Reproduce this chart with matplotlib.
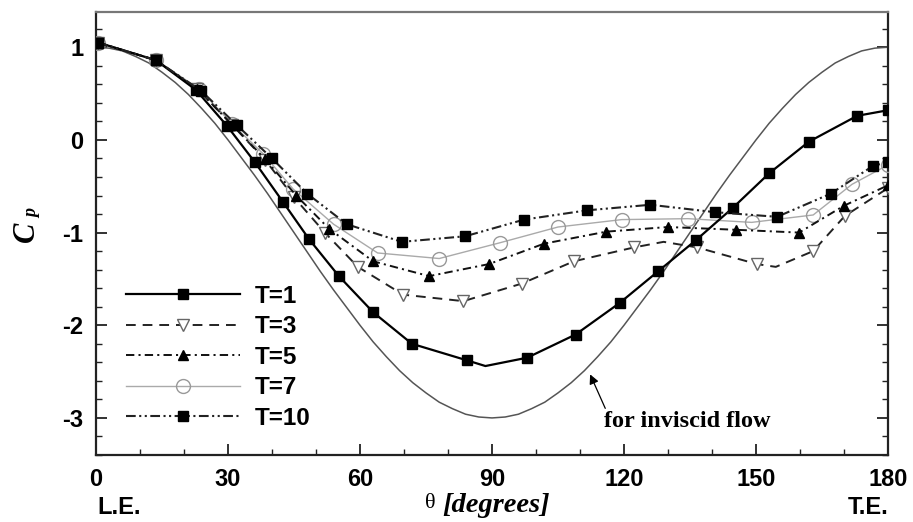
import matplotlib
matplotlib.use("Agg")
import matplotlib.pyplot as plt
from matplotlib.ticker import MultipleLocator, FixedLocator

plt.rcParams['axes.unicode_minus'] = False
plt.rcParams['lines.scale_dashes'] = False
plt.rcParams['font.family'] = ['Liberation Sans', 'DejaVu Sans']

# ---------------- data ----------------
inv_theta = list(range(0, 181, 3))
inv_cp = [1.00, 0.99, 0.96, 0.90, 0.83, 0.73, 0.62, 0.49, 0.34, 0.18, 0.00,
          -0.19, -0.38, -0.58, -0.79, -1.00, -1.21, -1.42, -1.62, -1.81, -2.00,
          -2.18, -2.34, -2.49, -2.62, -2.73, -2.83, -2.90, -2.96, -2.99, -3.00,
          -2.99, -2.96, -2.90, -2.83, -2.73, -2.62, -2.49, -2.34, -2.18, -2.00,
          -1.81, -1.62, -1.42, -1.21, -1.00, -0.79, -0.58, -0.38, -0.19, 0.00,
          0.18, 0.34, 0.49, 0.62, 0.73, 0.83, 0.90, 0.96, 0.99, 1.00]

t1_theta = [0.5, 13.6, 22.7, 29.8, 36.1, 42.5, 48.4, 55.2, 63.0, 71.8, 84.4, 88.5, 98.0, 109.0,
            119.0, 127.7, 136.4, 144.8, 153.0, 162.0, 173.0, 180.0]
t1_cp = [1.05, 0.86, 0.54, 0.15, -0.24, -0.67, -1.07, -1.47, -1.86, -2.20, -2.38, -2.44, -2.35,
         -2.10, -1.76, -1.42, -1.08, -0.73, -0.36, -0.02, 0.26, 0.32]
t1_line_only = [11]

t3_theta = [0.5, 13.6, 23.0, 31.0, 38.5, 45.0, 52.0, 59.5, 69.8, 83.5, 96.8, 108.6, 122.3,
            129.0, 136.6, 150.2, 154.5, 163.0, 170.2, 180.0]
t3_cp = [1.05, 0.86, 0.55, 0.16, -0.22, -0.62, -1.00, -1.37, -1.67, -1.74, -1.55, -1.31, -1.16,
         -1.10, -1.16, -1.34, -1.37, -1.20, -0.82, -0.52]
t3_line_only = [13, 16]

t5_theta = [0.5, 13.6, 23.0, 31.0, 38.5, 45.5, 53.0, 63.0, 75.7, 89.3, 101.8, 116.0, 130.0,
            145.5, 159.8, 170.0, 180.0]
t5_cp = [1.05, 0.86, 0.55, 0.16, -0.21, -0.60, -0.96, -1.31, -1.47, -1.34, -1.12, -0.99, -0.94,
         -0.97, -1.00, -0.71, -0.49]

t7_theta = [0.5, 13.6, 23.5, 31.0, 38.0, 44.8, 54.0, 64.0, 78.0, 91.8, 105.0, 119.5, 134.5,
            149.0, 163.0, 171.8, 180.0]
t7_cp = [1.05, 0.86, 0.55, 0.17, -0.15, -0.53, -0.91, -1.22, -1.28, -1.11, -0.94, -0.86, -0.85,
         -0.89, -0.81, -0.48, -0.27]

t10_theta = [0.5, 13.6, 23.9, 32.0, 40.0, 48.0, 57.0, 69.5, 83.9, 97.3, 111.6, 126.0, 140.7,
             154.8, 167.0, 176.6, 180.0]
t10_cp = [1.05, 0.86, 0.53, 0.16, -0.20, -0.58, -0.91, -1.10, -1.04, -0.86, -0.76, -0.70, -0.78,
          -0.83, -0.58, -0.28, -0.24]

series_labels = ['T=1', 'T=3', 'T=5', 'T=7', 'T=10']
x_ticks = [0, 30, 60, 90, 120, 150, 180]
y_ticks = [-3, -2, -1, 0, 1]

# ---------------- figure ----------------
W, H = 913, 522
fig = plt.figure(figsize=(W / 100, H / 100), dpi=100)
ax = fig.add_axes([96 / W, 1 - 455 / H, (888 - 96) / W, (455 - 12) / H])

ax.plot(inv_theta, inv_cp, color='#555555', lw=1.1, zorder=2)

def marks(n, skip):
    return [i for i in range(n) if i not in skip]

ax.plot(t1_theta, t1_cp, color='black', lw=1.6, ls='-', marker='s', ms=6.5,
        mfc='black', mec='black', markevery=marks(len(t1_theta), t1_line_only),
        label=series_labels[0], zorder=5)
ax.plot(t3_theta, t3_cp, color='#222222', lw=1.4, ls=(0, (7, 5)), marker='v', ms=8,
        mfc='white', mec='#666666', mew=1.0, markevery=marks(len(t3_theta), t3_line_only),
        label=series_labels[1], zorder=4)
ax.plot(t5_theta, t5_cp, color='#111111', lw=1.4, ls=(0, (6, 3, 1.5, 3)), marker='^', ms=7,
        mfc='black', mec='black', label=series_labels[2], zorder=4)
ax.plot(t7_theta, t7_cp, color='#aaaaaa', lw=1.0, ls='-', marker='o', ms=10,
        mfc='none', mec='#999999', mew=1.0, label=series_labels[3], zorder=3)
ax.plot(t10_theta, t10_cp, color='#222222', lw=1.5, ls=(0, (7, 2.5, 1.5, 2.5, 1.5, 2.5)),
        marker='s', ms=6.5, mfc='black', mec='black', label=series_labels[4], zorder=5)

ax.set_xlim(0, 180)
ax.set_ylim(-3.4, 1.38)
ax.xaxis.set_major_locator(FixedLocator(x_ticks))
ax.yaxis.set_major_locator(FixedLocator(y_ticks))
ax.xaxis.set_minor_locator(MultipleLocator(10))
ax.yaxis.set_minor_locator(MultipleLocator(0.2))
ax.set_xticklabels([str(v) for v in x_ticks])
ax.set_yticklabels([str(v) for v in y_ticks])

ax.tick_params(which='both', direction='in', left=True, right=True, bottom=True, top=False,
               color='#222222')
ax.tick_params(which='major', length=8, width=1.3, pad=9, labelsize=17)
ax.tick_params(which='minor', length=4.5, width=1.0)
for lab in ax.get_xticklabels() + ax.get_yticklabels():
    lab.set_fontweight('bold')
for s in ax.spines.values():
    s.set_linewidth(1.6)
    s.set_color('#222222')
ax.spines['top'].set_color('#777777')

leg = ax.legend(loc='center left', bbox_to_anchor=(0.038, 0.221), frameon=False,
                prop={'family': 'Liberation Sans', 'weight': 'bold', 'size': 17.5},
                handlelength=4.7, handletextpad=0.6, labelspacing=0.31, borderpad=0,
                borderaxespad=0, numpoints=1, markerfirst=True)

# annotation
ax.annotate('for inviscid flow', xy=(112.3, -2.53), xytext=(134.4, -3.04),
            ha='center', va='center', fontsize=17.5, fontweight='bold',
            family='Liberation Serif',
            arrowprops=dict(arrowstyle='-|>', color='black', lw=0.9,
                            shrinkA=0, shrinkB=0, mutation_scale=14,
                            relpos=(0.02, 0.9)))

# axis labels
fig.text(430 / W, 1 - 503 / H, 'θ', ha='center', va='center', fontsize=16,
         family='Liberation Serif')
fig.text(442 / W, 1 - 506 / H, '[degrees]', ha='left', va='center', fontsize=20.5,
         family='Liberation Serif', fontweight='bold', style='italic')
fig.text(26 / W, 1 - 232 / H, 'C', rotation=90,
         ha='center', va='center', fontsize=22, family='Liberation Serif',
         fontweight='bold', style='italic')
fig.text(33 / W, 1 - 214 / H, 'p', rotation=90, ha='center', va='center', fontsize=13,
         family='Liberation Serif', fontweight='bold', style='italic')

fig.text(97 / W, 1 - 507 / H, 'L.E.', ha='left', va='center', fontsize=17,
         fontweight='bold')
fig.text(888 / W, 1 - 507 / H, 'T.E.', ha='right', va='center', fontsize=17,
         fontweight='bold')

fig.savefig('out.png', dpi=100)
